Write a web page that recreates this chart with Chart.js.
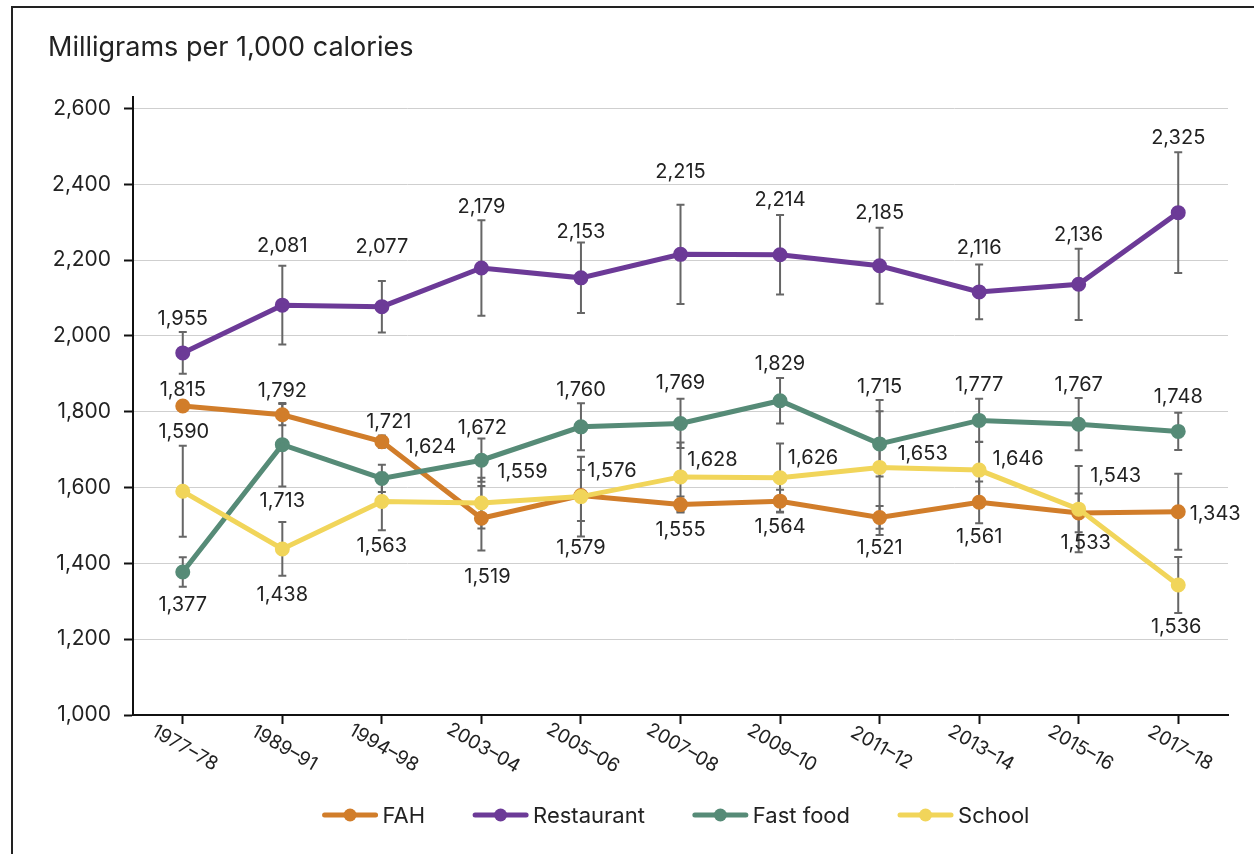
<!DOCTYPE html>
<html>
<head>
<meta charset="utf-8">
<script src="https://cdn.jsdelivr.net/npm/chart.js@4.4.1/dist/chart.umd.min.js"></script>
<style>
  html, body { margin: 0; padding: 0; background: #fff; }
  #wrap { width: 1254px; height: 854px; }
</style>
</head>
<body>
<div id="wrap"><canvas id="chart" width="1254" height="854"></canvas></div>
<script>
const years = ['1977–78', '1989–91', '1994–98', '2003–04', '2005–06', '2007–08', '2009–10', '2011–12', '2013–14', '2015–16', '2017–18'];

const fah = [1815, 1792, 1721, 1519, 1579, 1555, 1564, 1521, 1561, 1533, 1536];
const fahErr = [12, 28, 16, 85, 67, 21, 30, 30, 55, 51, 100];
const fahShown = [1815, 1792, 1721, 1519, 1579, 1555, 1564, 1521, 1561, 1533, 1343];

const restaurant = [1955, 2081, 2077, 2179, 2153, 2215, 2214, 2185, 2116, 2136, 2325];
const restaurantErr = [55, 104, 68, 126, 93, 131, 105, 100, 72, 94, 159];
const restaurantShown = [1955, 2081, 2077, 2179, 2153, 2215, 2214, 2185, 2116, 2136, 2325];

const fastFood = [1377, 1713, 1624, 1672, 1760, 1769, 1829, 1715, 1777, 1767, 1748];
const fastFoodErr = [39, 110, 36, 57, 62, 65, 60, 86, 57, 69, 49];
const fastFoodShown = [1377, 1713, 1624, 1672, 1760, 1769, 1829, 1715, 1777, 1767, 1748];

const school = [1590, 1438, 1563, 1559, 1576, 1628, 1626, 1653, 1646, 1543, 1343];
const schoolErr = [120, 71, 76, 67, 105, 91, 90, 178, 75, 114, 74];
const schoolShown = [1590, 1438, 1563, 1559, 1576, 1628, 1626, 1653, 1646, 1543, 1536];

const yTicks = [1000, 1200, 1400, 1600, 1800, 2000, 2200, 2400, 2600];

const FONT = 'Inter, "Noto Sans", sans-serif';
const TEXT = '#222';

// label offsets from the point, in px [dx, dy]
const labelOffsets = {
  FAH: [[0,-16],[0,-24],[7,-20],[6,59],[0,53],[0,25],[0,26],[0,31],[0,35],[7,30],[37,2]],
  Restaurant: [[0,-34],[0,-59],[0,-60],[0,-61],[0,-46],[0,-82],[0,-55],[0,-53],[0,-44],[0,-49],[0,-75]],
  'Fast food': [[0,33],[0,56],[49,-31],[1,-32],[0,-37],[0,-40],[0,-37],[0,-57],[0,-35],[0,-39],[0,-34]],
  School: [[1,-59],[0,46],[0,44],[41,-31],[31,-26],[32,-17],[33,-20],[43,-13],[39,-11],[37,-33],[-2,42]]
};

const fmt = v => v.toLocaleString('en-US');

function series(label, data, err, shown, color, order) {
  return {
    label, data, err, shown, order,
    borderColor: color,
    backgroundColor: color,
    pointBackgroundColor: color,
    pointBorderColor: color,
    borderWidth: 5,
    pointRadius: 5,
    tension: 0
  };
}

const errorBars = {
  id: 'errorBars',
  beforeDatasetsDraw(chart) {
    const { ctx, scales: { y } } = chart;
    ctx.save();
    ctx.strokeStyle = '#666';
    ctx.lineWidth = 2;
    chart.data.datasets.forEach((ds, di) => {
      const meta = chart.getDatasetMeta(di);
      meta.data.forEach((pt, i) => {
        const top = y.getPixelForValue(ds.data[i] + ds.err[i]);
        const bot = y.getPixelForValue(ds.data[i] - ds.err[i]);
        ctx.beginPath();
        ctx.moveTo(pt.x, top); ctx.lineTo(pt.x, bot);
        ctx.moveTo(pt.x - 4, top); ctx.lineTo(pt.x + 4, top);
        ctx.moveTo(pt.x - 4, bot); ctx.lineTo(pt.x + 4, bot);
        ctx.stroke();
      });
    });
    ctx.restore();
  }
};

const valueLabels = {
  id: 'valueLabels',
  afterDatasetsDraw(chart) {
    const { ctx } = chart;
    ctx.save();
    ctx.font = '20px ' + FONT;
    ctx.fillStyle = TEXT;
    ctx.textAlign = 'center';
    ctx.textBaseline = 'middle';
    chart.data.datasets.forEach((ds, di) => {
      const meta = chart.getDatasetMeta(di);
      const offs = labelOffsets[ds.label];
      meta.data.forEach((pt, i) => {
        ctx.fillText(fmt(ds.shown[i]), pt.x + offs[i][0], pt.y + offs[i][1]);
      });
    });
    ctx.restore();
  }
};

const decorations = {
  id: 'decorations',
  afterDraw(chart) {
    const { ctx, scales: { x } } = chart;
    ctx.save();
    // frame
    ctx.strokeStyle = '#222';
    ctx.lineWidth = 2;
    ctx.beginPath();
    ctx.moveTo(12, 854); ctx.lineTo(12, 7); ctx.lineTo(1254, 7);
    ctx.stroke();

    // title
    ctx.fillStyle = TEXT;
    ctx.font = '27px ' + FONT;
    ctx.textAlign = 'left';
    ctx.textBaseline = 'middle';
    ctx.fillText('Milligrams per 1,000 calories', 48, 48);

    // rotated category labels
    ctx.font = '19px ' + FONT;
    ctx.textAlign = 'center';
    years.forEach((yr, i) => {
      const px = x.getPixelForValue(i);
      ctx.save();
      ctx.translate(px + 2, 748);
      ctx.rotate(Math.PI / 6);
      ctx.fillText(yr, 0, 0);
      ctx.restore();
    });

    // legend
    ctx.font = '22px ' + FONT;
    const items = [[0, 'FAH'], [1, 'Restaurant'], [2, 'Fast food'], [3, 'School']];
    const lineW = 55, gapText = 5, gapItem = 48;
    let total = 0;
    items.forEach(([, t]) => { total += lineW + gapText + ctx.measureText(t).width; });
    total += gapItem * (items.length - 1);
    let cx = 676 - total / 2;
    const ly = 815;
    items.forEach(([di, t]) => {
      const c = chart.data.datasets[di].borderColor;
      ctx.strokeStyle = c;
      ctx.lineWidth = 5;
      ctx.lineCap = 'round';
      ctx.beginPath();
      ctx.moveTo(cx + 2, ly); ctx.lineTo(cx + lineW - 2, ly);
      ctx.stroke();
      ctx.fillStyle = c;
      ctx.beginPath();
      ctx.arc(cx + lineW / 2, ly, 6.5, 0, Math.PI * 2);
      ctx.fill();
      ctx.fillStyle = TEXT;
      ctx.textAlign = 'left';
      ctx.fillText(t, cx + lineW + gapText, ly + 1);
      cx += lineW + gapText + ctx.measureText(t).width + gapItem;
    });
    ctx.restore();
  }
};

new Chart(document.getElementById('chart'), {
  type: 'line',
  data: {
    labels: years,
    datasets: [
      series('FAH', fah, fahErr, fahShown, '#D17D2A', 3),
      series('Restaurant', restaurant, restaurantErr, restaurantShown, '#6C3A97', 2),
      series('Fast food', fastFood, fastFoodErr, fastFoodShown, '#568B77', 1),
      series('School', school, schoolErr, schoolShown, '#F1D55A', 0)
    ]
  },
  options: {
    responsive: false,
    animation: false,
    devicePixelRatio: 1,
    layout: { padding: { top: 97, right: 26, left: 0, bottom: 0 } },
    plugins: { legend: { display: false }, tooltip: { enabled: false } },
    scales: {
      x: {
        offset: true,
        grid: { drawOnChartArea: false, offset: false, tickColor: '#111', tickLength: 9, tickWidth: 2 },
        border: { color: '#111', width: 2 },
        ticks: { display: false },
        afterFit: s => { s.height = 854 - 715; }
      },
      y: {
        min: 1000,
        max: 2630,
        afterBuildTicks: s => { s.ticks = yTicks.map(v => ({ value: v })); },
        ticks: {
          padding: 13,
          color: TEXT,
          font: { family: FONT, size: 21 },
          callback: v => fmt(v)
        },
        grid: {
          color: c => (c.tick && c.tick.value === 1000) ? 'rgba(0,0,0,0)' : '#cfcfcf',
          lineWidth: 1,
          tickColor: '#111',
          tickLength: 9,
          tickWidth: 2
        },
        border: { color: '#111', width: 2 },
        afterFit: s => { s.width = 133; }
      }
    }
  },
  plugins: [errorBars, valueLabels, decorations]
});
</script>
</body>
</html>
